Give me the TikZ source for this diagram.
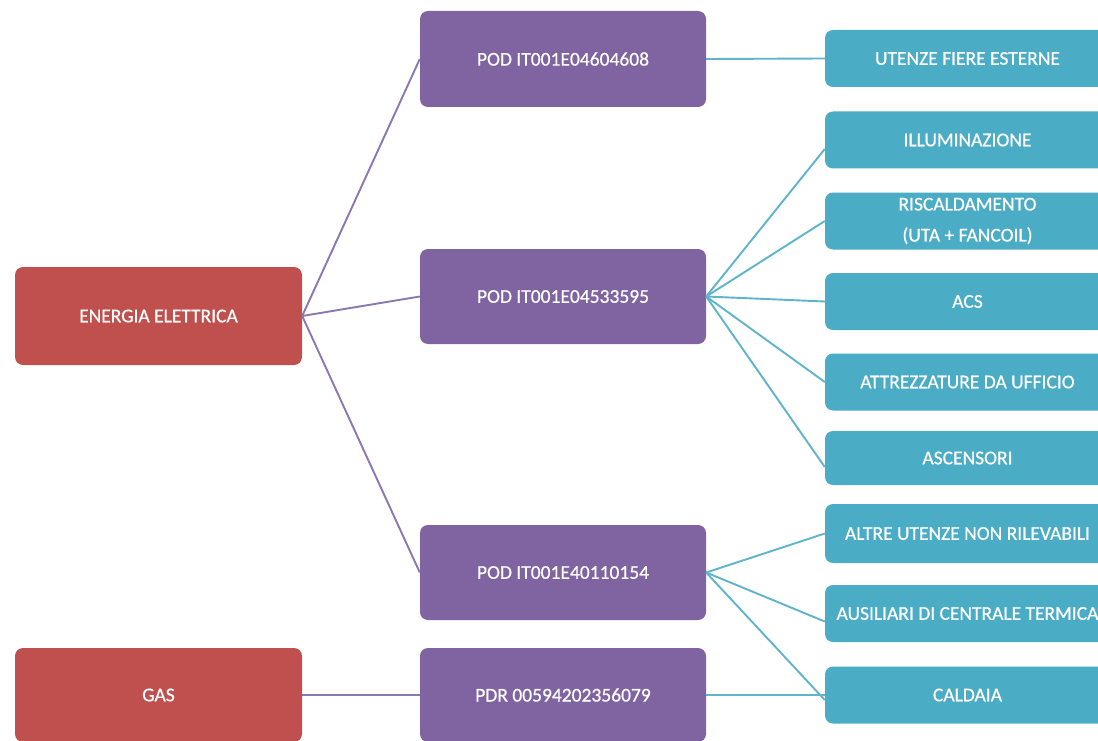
\documentclass[tikz,border=0pt]{standalone}
\usepackage{fontspec}
\setmainfont{Carlito}
\newfontfamily\boxfont{Carlito}[FakeBold=0.6]
\definecolor{cred}{HTML}{C0504D}
\definecolor{cpurple}{HTML}{8064A2}
\definecolor{cteal}{HTML}{4BACC6}
\definecolor{lpurple}{HTML}{8A78B0}
\definecolor{lteal}{HTML}{5FB4CC}
\begin{document}
\begin{tikzpicture}[x=1pt,y=-1pt,
  box/.style={rounded corners=8pt,inner sep=0pt,text=white,align=center,
    font=\boxfont\fontsize{19.5}{31}\selectfont},
  redbox/.style={box,fill=cred,minimum width=287pt},
  purplebox/.style={box,fill=cpurple,minimum width=286pt},
  tealbox/.style={box,fill=cteal,minimum width=285pt,minimum height=57pt},
  plink/.style={draw=lpurple,line width=1.9pt},
  tlink/.style={draw=lteal,line width=1.9pt}]
\clip (0,0) rectangle (1098,741);
\fill[white] (0,0) rectangle (1098,741);
% red
\node[redbox,minimum height=98pt] (ee) at (158.5,316) {ENERGIA ELETTRICA};
\node[redbox,minimum height=94pt] (gas) at (158.5,695) {GAS};
% purple
\node[purplebox,minimum height=96pt] (pod1) at (563,59) {POD IT001E04604608};
\node[purplebox,minimum height=95pt] (pod2) at (563,296.5) {POD IT001E04533595};
\node[purplebox,minimum height=95pt] (pod3) at (563,572.5) {POD IT001E40110154};
\node[purplebox,minimum height=94pt] (pdr) at (563,695) {PDR 00594202356079};
% teal
\node[tealbox] (ute) at (967.5,58.5) {UTENZE FIERE ESTERNE};
\node[tealbox] (ill) at (967.5,140) {ILLUMINAZIONE};
\node[tealbox] (ris) at (967.5,221) {RISCALDAMENTO\\(UTA + FANCOIL)};
\node[tealbox] (acs) at (967.5,301.5) {ACS};
\node[tealbox] (att) at (967.5,382) {ATTREZZATURE DA UFFICIO};
\node[tealbox,minimum height=54pt] (asc) at (967.5,458) {ASCENSORI};
\node[tealbox,minimum height=59pt] (alt) at (967.5,533.5) {ALTRE UTENZE NON RILEVABILI};
\node[tealbox] (aus) at (967.5,613.5) {AUSILIARI DI CENTRALE TERMICA};
\node[tealbox] (cal) at (967.5,695) {CALDAIA};
% purple links
\draw[plink] (ee.east) -- (pod1.west);
\draw[plink] (ee.east) -- (pod2.west);
\draw[plink] (ee.east) -- (pod3.west);
\draw[plink] (gas.east) -- (pdr.west);
% teal links
\draw[tlink] (pod1.east) -- (ute.west);
\draw[tlink] (pod2.east) -- ([yshift=-9pt]ill.west);
\draw[tlink] (pod2.east) -- (ris.west);
\draw[tlink] (pod2.east) -- (acs.west);
\draw[tlink] (pod2.east) -- (att.west);
\draw[tlink] (pod2.east) -- ([yshift=-9pt]asc.west);
\draw[tlink] (pod3.east) -- (alt.west);
\draw[tlink] (pod3.east) -- ([yshift=-8pt]aus.west);
\draw[tlink] (pod3.east) -- ([yshift=-5pt]cal.west);
\draw[tlink] (pdr.east) -- (cal.west);
\end{tikzpicture}
\end{document}
